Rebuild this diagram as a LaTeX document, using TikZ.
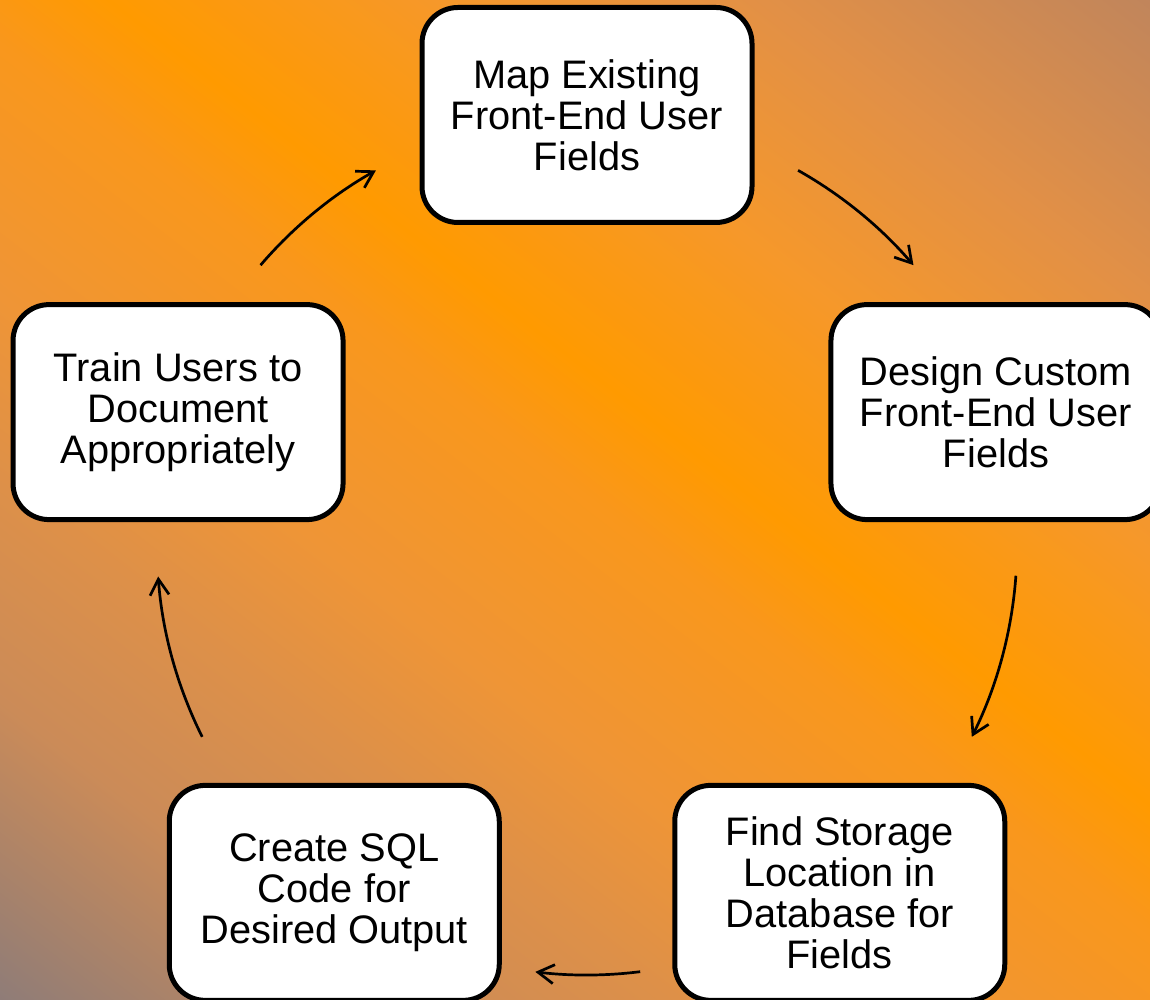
\documentclass[tikz,border=0pt]{standalone}
\usepackage{fontspec}
\setmainfont{Liberation Sans}
\usetikzlibrary{arrows.meta,calc}

% background tones, from the grey-brown corner through the bright band to the tan corner
\definecolor{bgA}{HTML}{8E7C78}
\definecolor{bgB}{HTML}{CB8B58}
\definecolor{bgC}{HTML}{DD9049}
\definecolor{bgD}{HTML}{EF9536}
\definecolor{bgE}{HTML}{F9971C}
\definecolor{bgF}{HTML}{FF9A00}
\definecolor{bgG}{HTML}{F6982A}
\definecolor{bgH}{HTML}{E29046}
\definecolor{bgI}{HTML}{C0855C}

\pgfdeclarehorizontalshading{bgshade}{100bp}{%
  color(0bp)=(bgA); color(26.25bp)=(bgA); color(33.75bp)=(bgB);
  color(39.06bp)=(bgC); color(43.75bp)=(bgD); color(50bp)=(bgE);
  color(53.125bp)=(bgF); color(59.375bp)=(bgG); color(65.625bp)=(bgH);
  color(73.125bp)=(bgI); color(100bp)=(bgI)}

\begin{document}
\begin{tikzpicture}[x=0.5pt,y=0.5pt,
  stepbox/.style={draw=black, line width=2.5pt, fill=white,
    rounded corners=18pt, minimum width=165pt, minimum height=107.5pt,
    inner sep=0pt, align=center,
    font=\fontsize{19.9}{20.5}\selectfont},
  cycarrow/.style={draw=black, line width=1.35pt,
    -{Straight Barb[length=8pt,width=9.5pt]}}]

\useasboundingbox (0,0) rectangle (1150,1000);

% diagonal gradient backdrop
\begin{scope}
  \clip (0,0) rectangle (1150,1000);
  \begin{scope}[transform canvas={shift={(130,983)},rotate=52.3}]
    \shade[shading=bgshade] (-900,-1600) rectangle (700,1600);
  \end{scope}
\end{scope}

% centre of the cycle
\coordinate (C) at (587,455);

% the five steps, on a circle of radius 430
\node[stepbox] (map)    at ($(C)+(90:430)$)   {Map Existing\\Front-End User\\Fields};
\node[stepbox] (design) at ($(C)+(18:430)$)   {Design Custom\\Front-End User\\Fields};
\node[stepbox] (find)   at ($(C)+(-54:430)$)  {Find Storage\\Location in\\Database for\\Fields};
\node[stepbox] (sql)    at ($(C)+(-126:430)$) {Create SQL\\Code for\\Desired Output};
\node[stepbox] (train)  at ($(C)+(162:430)$)  {Train Users to\\Document\\Appropriately};

% arc start points between neighbouring steps
\coordinate (mapToDesign)   at ($(C)+(60.6:430)$);
\coordinate (designToFind)  at ($(C)+(-4.1:430)$);
\coordinate (findToSql)     at ($(C)+(-82.9:430)$);
\coordinate (sqlToTrain)    at ($(C)+(206.5:430)$);
\coordinate (trainToMap)    at ($(C)+(139.4:430)$);

% clockwise arrows along the circle
\draw[cycarrow] (mapToDesign)  arc[start angle=60.6,  end angle=40.6,   radius=215pt];
\draw[cycarrow] (designToFind) arc[start angle=-4.1,  end angle=-26.5,  radius=215pt];
\draw[cycarrow] (findToSql)    arc[start angle=-82.9, end angle=-96.9,  radius=215pt];
\draw[cycarrow] (sqlToTrain)   arc[start angle=206.5, end angle=184.2,  radius=215pt];
\draw[cycarrow] (trainToMap)   arc[start angle=139.4, end angle=119.4,  radius=215pt];

\end{tikzpicture}
\end{document}
